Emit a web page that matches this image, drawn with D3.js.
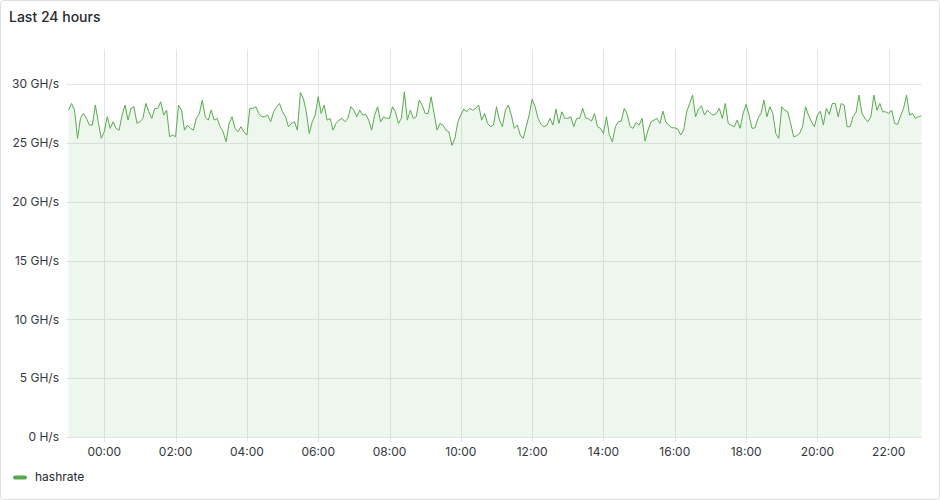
<!DOCTYPE html>
<html>
<head>
<meta charset="utf-8">
<script src="https://cdn.jsdelivr.net/npm/d3@7"></script>
<style>
  body { margin: 0; background: #fff; font-family: Inter, "Noto Sans", sans-serif; }
  svg { display: block; }
</style>
</head>
<body>
<div id="chart"></div>
<script>
// series: hashrate in GH/s, one point every 5 minutes, starting 23:00 the day before
var seriesName = "hashrate";
var startTime = new Date(2024, 0, 1, 23, 0);
var stepMinutes = 5;
var hashrate = [
  27.80, 28.37, 27.80, 25.40, 27.10, 27.52, 27.10, 26.53, 26.53, 28.23, 26.81, 25.40,
  25.96, 27.24, 26.25, 26.81, 26.25, 26.10, 27.38, 28.23, 26.95, 27.95, 28.09, 26.67,
  26.81, 27.10, 28.37, 27.66, 27.10, 27.95, 27.95, 28.51, 27.38, 27.80, 25.54, 25.68,
  25.54, 28.23, 27.80, 26.10, 26.53, 26.25, 26.10, 27.10, 27.52, 28.65, 27.24, 26.95,
  27.80, 26.95, 27.10, 26.39, 25.96, 25.11, 26.67, 27.24, 26.25, 25.96, 26.39, 25.96,
  25.68, 27.95, 27.95, 28.09, 27.52, 27.24, 27.24, 27.38, 26.81, 27.66, 28.09, 28.37,
  27.66, 27.24, 26.39, 26.67, 26.81, 26.10, 29.30, 28.80, 27.66, 25.82, 26.81, 27.38,
  28.94, 27.52, 28.23, 26.95, 27.10, 26.10, 26.67, 26.95, 27.10, 26.81, 27.10, 28.09,
  27.80, 27.24, 27.80, 27.38, 27.44, 26.95, 26.10, 27.38, 28.09, 26.81, 27.24, 27.10,
  27.10, 28.09, 27.66, 26.67, 27.10, 29.36, 26.95, 27.80, 27.10, 27.24, 28.65, 28.23,
  27.52, 27.52, 28.94, 27.52, 26.10, 26.67, 26.53, 26.10, 25.96, 24.80, 25.40, 26.81,
  27.38, 27.89, 27.66, 27.95, 27.80, 27.95, 28.23, 26.95, 27.52, 26.67, 26.39,
  26.53, 28.09, 26.95, 26.39, 27.80, 28.23, 27.38, 26.25, 26.53, 25.68, 25.40, 26.39,
  27.38, 28.74, 28.09, 27.10, 26.59, 26.39, 26.53, 27.10, 26.53, 27.89, 26.67, 27.66,
  27.10, 27.10, 27.24, 26.39, 27.10, 27.10, 27.95, 27.15, 27.04, 26.87, 27.52, 26.39,
  26.25, 25.82, 27.24, 25.68, 25.11, 26.39, 26.81, 26.87, 27.95, 27.44, 26.39, 26.25,
  26.76, 26.53, 27.10, 25.17, 26.10, 26.81, 26.95, 27.10, 26.67, 27.72, 26.81, 26.53,
  26.30, 26.30, 26.19, 25.68, 26.10, 27.66, 28.37, 29.08, 27.24, 27.89, 28.17, 27.38,
  27.80, 27.52, 27.38, 27.52, 27.95, 27.10, 28.37, 26.67, 26.53, 26.39, 26.95, 26.25,
  27.52, 28.29, 27.38, 26.25, 26.30, 27.10, 27.52, 28.65, 27.24, 28.09, 27.52, 25.82,
  25.40, 28.09, 27.80, 27.66, 26.67, 25.54, 25.62, 25.82, 26.39, 28.09, 27.38, 26.81,
  26.39, 27.38, 27.72, 26.53, 27.95, 27.44, 28.37, 28.37, 27.24, 28.37, 28.23, 26.39,
  26.39, 27.24, 27.61, 29.08, 27.52, 27.10, 26.81, 27.24, 29.08, 27.80, 28.37, 27.66,
  27.66, 27.52, 27.80, 26.67, 26.59, 27.32, 27.95, 29.08, 27.38, 27.52, 27.10, 27.24,
  27.32
];
var yTicks = [0, 5, 10, 15, 20, 25, 30];
var yMax = 33;
var title = "Last 24 hours";

var data = hashrate.map(function(v, i) {
  return { t: new Date(startTime.getTime() + i * stepMinutes * 60000), v: v };
});

var W = 940, H = 500;
var margin = {top: 49, right: 18, bottom: 63, left: 67};

var svg = d3.select("#chart").append("svg")
  .attr("width", W)
  .attr("height", H);

// panel frame
svg.append("rect")
  .attr("x", 0.5).attr("y", 0.5)
  .attr("width", W - 1).attr("height", H - 1)
  .attr("rx", 3)
  .attr("fill", "#fff")
  .attr("stroke", "#dcdee2");

svg.append("text")
  .attr("x", 9).attr("y", 22)
  .style("font-size", "14px")
  .style("font-weight", 500)
  .style("fill", "#24292e")
  .text(title);

var x = d3.scaleTime()
  .domain([new Date(startTime.getTime() - 60000), new Date(startTime.getTime() + (24 * 60 - 4) * 60000)])
  .range([margin.left + 1, W - margin.right]);

var y = d3.scaleLinear()
  .domain([0, yMax])
  .range([H - margin.bottom, margin.top]);

var xTicks = x.ticks(d3.timeHour.every(2));
var fmtTime = d3.timeFormat("%H:%M");

function fmtY(d) {
  return d === 0 ? "0 H/s" : d + " GH/s";
}

// grid
var grid = svg.append("g").attr("stroke", "#e4e5e7").attr("stroke-width", 1);
grid.selectAll(".hg")
  .data(yTicks).enter().append("line")
  .attr("x1", margin.left - 1).attr("x2", W - margin.right)
  .attr("y1", function(d) { return Math.round(y(d)) + 0.5; })
  .attr("y2", function(d) { return Math.round(y(d)) + 0.5; });
grid.selectAll(".vg")
  .data(xTicks).enter().append("line")
  .attr("x1", function(d) { return Math.round(x(d)) + 0.5; })
  .attr("x2", function(d) { return Math.round(x(d)) + 0.5; })
  .attr("y1", margin.top)
  .attr("y2", H - margin.bottom + 5);

// area + line
var area = d3.area()
  .x(function(d) { return x(d.t); })
  .y0(y(0))
  .y1(function(d) { return y(d.v); });

var line = d3.line()
  .x(function(d) { return x(d.t); })
  .y(function(d) { return y(d.v); });

svg.append("path")
  .datum(data)
  .attr("d", area)
  .attr("fill", "#73bf69")
  .attr("fill-opacity", 0.12);

svg.append("path")
  .datum(data)
  .attr("d", line)
  .attr("fill", "none")
  .attr("stroke", "#5aaa4f")
  .attr("stroke-width", 1);

// axis labels
svg.append("g").selectAll("text")
  .data(yTicks).enter().append("text")
  .attr("x", 59)
  .attr("y", function(d) { return y(d); })
  .attr("dy", "0.35em")
  .attr("text-anchor", "end")
  .style("font-size", "12px")
  .style("fill", "#34383e")
  .text(fmtY);

svg.append("g").selectAll("text")
  .data(xTicks).enter().append("text")
  .attr("x", function(d) { return x(d); })
  .attr("y", H - margin.bottom + 15)
  .attr("dy", "0.35em")
  .attr("text-anchor", "middle")
  .style("font-size", "12px")
  .style("fill", "#34383e")
  .text(fmtTime);

// legend
svg.append("rect")
  .attr("x", 13).attr("y", 475.5)
  .attr("width", 14).attr("height", 4)
  .attr("rx", 2)
  .attr("fill", "#56a64b");
svg.append("text")
  .attr("x", 35).attr("y", 477)
  .attr("dy", "0.35em")
  .style("font-size", "12px")
  .style("fill", "#24292e")
  .text(seriesName);
</script>
</body>
</html>
